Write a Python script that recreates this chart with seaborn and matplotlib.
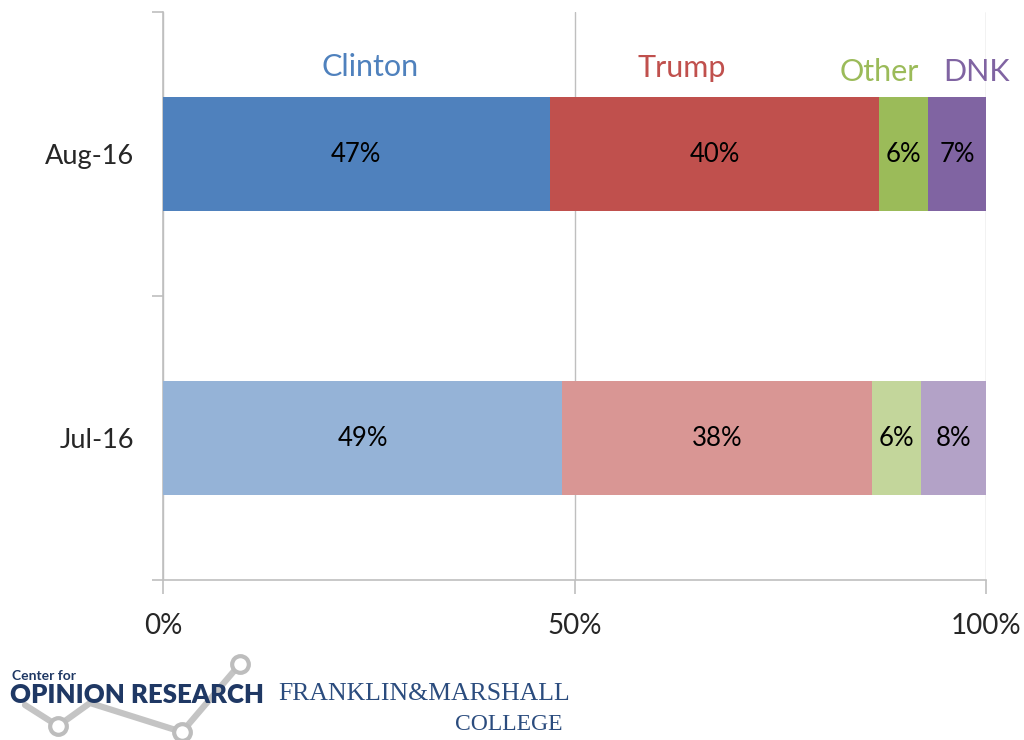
import matplotlib
matplotlib.use("Agg")
import matplotlib.pyplot as plt
import seaborn as sns
from pandas import DataFrame
from matplotlib.lines import Line2D

# данные
periods = ["Aug-16", "Jul-16"]
candidates = ["Clinton", "Trump", "Other", "DNK"]
aug_values = [47, 40, 6, 7]
jul_values = [49, 38, 6, 8]

dark_colors = ["#4F81BD", "#C0504D", "#9BBB59", "#8064A2"]
light_colors = ["#95B3D7", "#D99694", "#C3D69B", "#B3A2C7"]

sns.set_style("white")
plt.rcParams["font.family"] = ["Lato", "DejaVu Sans"]

# 100% stacked: нормируем и считаем накопленные суммы
rows = []
for period, vals in zip(periods, [aug_values, jul_values]):
    total = sum(vals)
    cum = 0
    for cand, v in zip(candidates, vals):
        share = v / total * 100
        rows.append({"period": period, "candidate": cand, "value": v,
                     "start": cum, "end": cum + share})
        cum += share
df = DataFrame(rows)

fig = plt.figure(figsize=(10.24, 7.4), dpi=100)
ax = fig.add_axes([163 / 1024, 1 - 580 / 740, 823 / 1024, 568 / 740])

# рисуем от последнего сегмента к первому, чтобы получились стопки
for i in reversed(range(len(candidates))):
    part = df[df["candidate"] == candidates[i]]
    sns.barplot(data=part, x="end", y="period", hue="period", order=periods,
                hue_order=periods, palette=[dark_colors[i], light_colors[i]],
                dodge=False, width=0.4, legend=False, ax=ax, zorder=3,
                linewidth=0, saturation=1)

# подписи значений
for _, r in df.iterrows():
    yi = periods.index(r["period"])
    ax.text((r["start"] + r["end"]) / 2, yi, f"{r['value']}%", ha="center",
            va="center", fontsize=18.5, color="black", zorder=4)

# подписи кандидатов над верхней полосой
header_x = [25.2, 63.0, 87.0, 98.9]
header_y = [-0.306, -0.303, -0.289, -0.289]
for cand, hx, hy, col in zip(candidates, header_x, header_y, dark_colors):
    ax.text(hx, hy, cand, ha="center", va="center", fontsize=22, color=col)

ax.set_xlim(0, 100)
ax.set_ylim(1.5, -0.5)
ax.set_xticks([0, 50, 100])
ax.set_xticklabels(["0%", "50%", "100%"], fontsize=20)
ax.set_yticks([0, 1])
ax.set_yticklabels(periods, fontsize=19.5)
ax.set_yticks([-0.5, 0.5, 1.5], minor=True)
ax.tick_params(axis="y", which="major", length=0, pad=21, left=True)
ax.tick_params(axis="y", which="minor", length=8, width=1.2, color="#BFBFBF",
               direction="out", left=True)
ax.tick_params(axis="x", length=10, width=1.2, color="#BFBFBF", direction="out",
               pad=14, bottom=True)
ax.set_xlabel("")
ax.set_ylabel("")
ax.xaxis.grid(True, color="#BFBFBF", linewidth=1, zorder=0)
ax.set_axisbelow(True)
for side in ["top", "right"]:
    ax.spines[side].set_visible(False)
for side in ["left", "bottom"]:
    ax.spines[side].set_color("#BFBFBF")
    ax.spines[side].set_linewidth(1.2)

# логотип внизу
logo_x = [25 / 1024, 58 / 1024, 90 / 1024, 182 / 1024, 240 / 1024]
logo_y = [1 - 705 / 740, 1 - 726 / 740, 1 - 703 / 740, 1 - 732 / 740, 1 - 664 / 740]
fig.add_artist(Line2D(logo_x, logo_y, transform=fig.transFigure, color="#C4C4C4",
                      linewidth=4.5, zorder=1))
fig.add_artist(Line2D([logo_x[1], logo_x[3], logo_x[4]],
                      [logo_y[1], logo_y[3], logo_y[4]],
                      transform=fig.transFigure, linestyle="none", marker="o",
                      markersize=12, markerfacecolor="white",
                      markeredgecolor="#BDBDBD", markeredgewidth=3, zorder=1))
fig.text(12 / 1024, 1 - 676 / 740, "Center for", fontsize=10, color="#1F3864",
         fontweight="bold", va="center", zorder=2)
fig.text(10 / 1024, 1 - 695 / 740, "OPINION RESEARCH", fontsize=18.5, color="#1F3864",
         fontweight="heavy", va="center", zorder=2)
fig.text(278 / 1024, 1 - 694 / 740, "FRANKLIN&MARSHALL", fontsize=18.5, color="#2B4C7E",
         family=["Liberation Serif", "DejaVu Serif"], va="center")
fig.text(455 / 1024, 1 - 724 / 740, "COLLEGE", fontsize=17, color="#2B4C7E",
         family=["Liberation Serif", "DejaVu Serif"], va="center")

fig.savefig("out.png", dpi=100)
